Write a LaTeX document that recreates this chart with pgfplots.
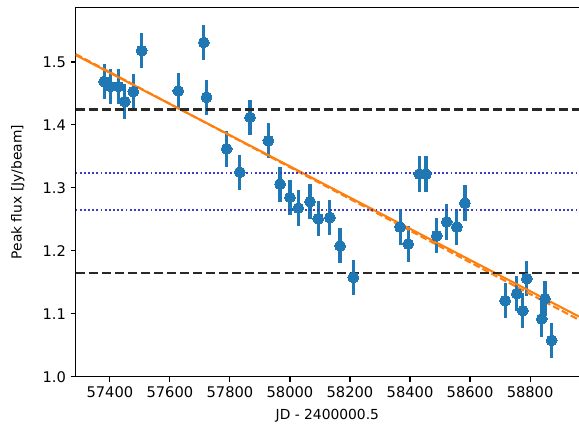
\documentclass[border=0pt]{standalone}
\usepackage{fontspec}
\setmainfont{DejaVu Sans}
\usepackage{pgfplots}
\usepackage{pgfplotstable}
\pgfplotsset{compat=1.18}
\usetikzlibrary{calc}

\definecolor{mplblue}{HTML}{1F77B4}
\definecolor{mplorange}{HTML}{FF7F0E}
\definecolor{hlblue}{RGB}{60,60,200}
\definecolor{hlblack}{RGB}{40,40,40}

% Peak flux per epoch
\pgfplotstableread{
jd    flux  err
57381 1.469 0.028
57402 1.461 0.028
57428 1.461 0.028
57450 1.437 0.028
57478 1.453 0.028
57506 1.518 0.028
57628 1.454 0.028
57713 1.531 0.028
57722 1.444 0.028
57789 1.362 0.028
57833 1.325 0.028
57867 1.412 0.028
57928 1.375 0.028
57967 1.306 0.028
58000 1.285 0.028
58028 1.268 0.028
58067 1.278 0.028
58094 1.251 0.028
58133 1.253 0.028
58167 1.208 0.028
58211 1.158 0.028
58367 1.238 0.028
58394 1.211 0.028
58431 1.322 0.028
58453 1.322 0.028
58489 1.224 0.028
58522 1.246 0.028
58556 1.238 0.028
58583 1.276 0.028
58717 1.121 0.028
58756 1.132 0.028
58776 1.105 0.028
58789 1.156 0.028
58839 1.092 0.028
58850 1.124 0.028
58872 1.058 0.028
}\fluxdata

\begin{document}
\begin{tikzpicture}
\begin{axis}[
  scale only axis,
  width=362.5bp, height=266bp,
  xmin=57286, xmax=58963,
  ymin=1.0, ymax=1.5865,
  axis x line*=bottom, axis y line*=left,
  axis line style={-, line width=0.8bp, black},
  tick align=outside,
  major tick length=3.5bp,
  every tick/.style={black, line width=0.8bp},
  xtick={57400,57600,57800,58000,58200,58400,58600,58800},
  ytick={1.0,1.1,1.2,1.3,1.4,1.5},
  scaled x ticks=false,
  scaled y ticks=false,
  /pgf/number format/assume math mode=true,
  xticklabel style={/pgf/number format/set thousands separator={}},
  yticklabel style={/pgf/number format/fixed, /pgf/number format/fixed zerofill, /pgf/number format/precision=1},
  tick label style={font=\fontsize{10.6}{12}\selectfont},
  label style={font=\fontsize{11.5}{13}\selectfont},
  xlabel={JD - 2400000.5},
  ylabel={Peak flux [Jy/beam]},
  every axis x label/.style={at={(rel axis cs:0.5,0)}, yshift=-27.8bp, anchor=center},
  every axis y label/.style={at={(rel axis cs:0,0.5)}, xshift=-41.6bp, rotate=90, anchor=center},
]
\coordinate (axbl) at (rel axis cs:0,0);
\coordinate (axtr) at (rel axis cs:1,1);

% measurements with 1-sigma errors
\addplot[only marks, mark=*, mark size=3.9bp,
  mark options={fill=mplblue, draw=mplblue, line width=0pt},
  error bars/.cd, y dir=both, y explicit, error mark=none,
  error bar style={line width=2.3bp, mplblue}]
  table[x=jd, y=flux, y error=err]{\fluxdata};

% linear fits
\addplot[mplorange, line width=1.5bp, dash pattern=on 5bp off 2.2bp] coordinates {(57286,1.5125) (58963,1.0905)};
\addplot[mplorange, line width=1.5bp] coordinates {(57286,1.511) (58963,1.0957)};

% mean +/- std and mean +/- error of the mean
\addplot[hlblack, line width=1.9bp, dash pattern=on 6.5bp off 2.9bp] coordinates {(57286,1.4243) (58963,1.4243)};
\addplot[hlblack, line width=1.9bp, dash pattern=on 6.5bp off 2.9bp] coordinates {(57286,1.1650) (58963,1.1650)};
\addplot[hlblue, line width=1.4bp, dash pattern=on 1.3bp off 1.7bp] coordinates {(57286,1.3238) (58963,1.3238)};
\addplot[hlblue, line width=1.4bp, dash pattern=on 1.3bp off 1.7bp] coordinates {(57286,1.2656) (58963,1.2656)};
\end{axis}
\draw[line width=0.8bp, black] (axbl |- axtr) -- (axtr);
\pgfresetboundingbox
\path[use as bounding box] ($(axbl)+(-54.5bp,-38.2bp)$) rectangle ($(axtr)+(0,5.4bp)$);
\end{tikzpicture}
\end{document}
